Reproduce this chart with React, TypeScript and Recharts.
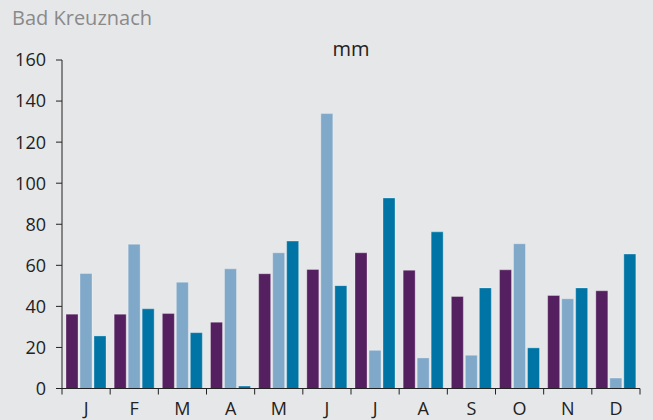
import { BarChart, Bar, XAxis, YAxis } from 'recharts';

const months = ['J', 'F', 'M', 'A', 'M', 'J', 'J', 'A', 'S', 'O', 'N', 'D'];
const seriesA = [36.2, 36.2, 36.5, 32.3, 55.9, 58, 66.1, 57.6, 44.8, 57.8, 45.3, 47.6];
const seriesB = [56, 70.3, 51.8, 58.3, 66.1, 133.9, 18.6, 14.9, 16.2, 70.5, 43.7, 5.1];
const seriesC = [25.6, 38.8, 27.2, 1.2, 71.8, 50.1, 92.8, 76.3, 49, 19.8, 49, 65.5];
const yTicks = [0, 20, 40, 60, 80, 100, 120, 140, 160];

const data = months.map((m, i) => ({ month: m, a: seriesA[i], b: seriesB[i], c: seriesC[i] }));

const W = 653;
const H = 420;
const Y_AXIS_W = 62;
const RIGHT = 13;
const BAND = (W - Y_AXIS_W - RIGHT) / months.length;
const FONT = '"Open Sans", "Noto Sans", sans-serif';
const INK = '#222';

// label in the middle, tick mark on the left edge of each month (and the right edge of the last)
const MonthTick = (props: any) => {
    const { x, y, payload, index } = props;
    const axisY = y - 8;
    return (
        <g>
            <line x1={x - BAND / 2} x2={x - BAND / 2} y1={axisY} y2={axisY + 6} stroke={INK} strokeWidth={1} />
            {index === months.length - 1 && (
                <line x1={x + BAND / 2} x2={x + BAND / 2} y1={axisY} y2={axisY + 6} stroke={INK} strokeWidth={1} />
            )}
            <text x={x} y={y + 18} textAnchor="middle" fontSize={18} fontFamily={FONT} fill={INK}>
                {payload.value}
            </text>
        </g>
    );
};

export default function App() {
    return (
        <div style={{ position: 'absolute', left: 0, top: 0, width: W, height: H, background: '#e6e7e9' }}>
            <div style={{ position: 'absolute', left: 12, top: 4, fontFamily: FONT, fontSize: 20, color: '#8a8a8a' }}>
                Bad Kreuznach
            </div>
            <div style={{ position: 'absolute', left: 311, width: 80, top: 35, textAlign: 'center', fontFamily: FONT, fontSize: 20, color: INK }}>
                mm
            </div>
            <BarChart
                width={W}
                height={H}
                data={data}
                margin={{ top: 60, right: RIGHT, bottom: 0, left: 0 }}
                barSize={12}
                barGap={2}
            >
                <XAxis
                    dataKey="month"
                    height={31.5}
                    interval={0}
                    tickLine={false}
                    tickSize={6}
                    tickMargin={2}
                    axisLine={{ stroke: INK }}
                    tick={<MonthTick />}
                />
                <YAxis
                    width={Y_AXIS_W}
                    domain={[0, 160]}
                    ticks={yTicks}
                    interval={0}
                    tickSize={6}
                    tickMargin={10}
                    axisLine={{ stroke: INK }}
                    tickLine={{ stroke: INK }}
                    tick={{ fontSize: 18, fontFamily: FONT, fill: INK }}
                />
                <Bar dataKey="a" fill="#55205f" stroke="rgba(255,255,255,0.3)" isAnimationActive={false} />
                <Bar dataKey="b" fill="#80a8c9" stroke="rgba(255,255,255,0.3)" isAnimationActive={false} />
                <Bar dataKey="c" fill="#0075a5" stroke="rgba(255,255,255,0.3)" isAnimationActive={false} />
            </BarChart>
        </div>
    );
}
